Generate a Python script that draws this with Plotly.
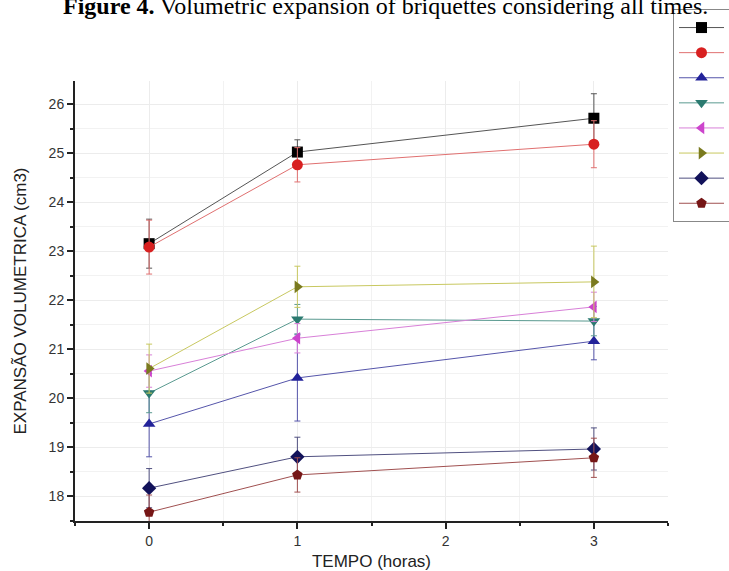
import plotly.graph_objects as go

tempo = [0, 1, 3]
series_names = ["A", "B", "C", "D", "E", "F", "G", "H"]
values = [
    [23.15, 25.02, 25.71],
    [23.08, 24.76, 25.18],
    [19.47, 20.41, 21.16],
    [20.10, 21.61, 21.57],
    [20.55, 21.22, 21.86],
    [20.60, 22.27, 22.37],
    [18.16, 18.80, 18.96],
    [17.67, 18.43, 18.78],
]
errors = [
    [0.50, 0.25, 0.50],
    [0.55, 0.35, 0.48],
    [0.67, 0.88, 0.38],
    [0.40, 0.30, 0.30],
    [0.33, 0.30, 0.30],
    [0.50, 0.42, 0.73],
    [0.40, 0.40, 0.43],
    [0.35, 0.35, 0.40],
]
colors = ["#000000", "#d82020", "#22229a", "#2b7a70", "#cc44cc",
          "#7a7a1e", "#12125a", "#761616"]
line_colors = ["#555555", "#e07070", "#5555aa", "#5a9a90", "#d880d8",
               "#c8c860", "#505080", "#a05050"]
symbols = ["square", "circle", "triangle-up", "triangle-down",
           "triangle-left", "triangle-right", "diamond", "pentagon"]

fig = go.Figure()
for name, v, e, c, lc, s in zip(series_names, values, errors, colors, line_colors, symbols):
    fig.add_trace(go.Scatter(
        x=tempo, y=v, name=name, mode="lines+markers",
        line=dict(color=lc, width=1),
        marker=dict(symbol=s, color=c, size=11, line=dict(width=0)),
        error_y=dict(type="data", array=e, color=lc, thickness=1, width=3),
    ))

axis_font = dict(family="Liberation Sans, Arial", size=14, color="#333333")
title_font = dict(family="Liberation Sans, Arial", size=17, color="#222222")
fig.update_layout(
    width=729, height=571,
    margin=dict(l=75, r=61, t=81, b=50, autoexpand=False),
    paper_bgcolor="white", plot_bgcolor="white",
    showlegend=True,
    legend=dict(
        x=(673 - 75) / 593, xanchor="left", y=1 + (81 - 9) / 440, yanchor="top",
        bgcolor="white", bordercolor="#888888", borderwidth=1,
        font=dict(family="Liberation Sans, Arial", size=17, color="#333333"),
        tracegroupgap=0, itemwidth=45,
    ),
    xaxis=dict(
        range=[-0.5, 3.5], tickvals=[0, 1, 2, 3], ticktext=["0", "1", "2", "3"],
        showline=True, linecolor="#222222", linewidth=2,
        ticks="outside", ticklen=6, tickwidth=2, tickcolor="#222222",
        showgrid=True, gridcolor="#ececec", gridwidth=1,
        minor=dict(dtick=0.5, ticks="outside", ticklen=3, tickcolor="#222222",
                   showgrid=True, gridcolor="#f2f2f2"),
        zeroline=False, tickfont=axis_font,
        title=dict(text="TEMPO (horas)", font=title_font, standoff=10),
    ),
    yaxis=dict(
        range=[17.49, 26.47], tickvals=[18, 19, 20, 21, 22, 23, 24, 25, 26],
        showline=True, linecolor="#222222", linewidth=2,
        ticks="outside", ticklen=6, tickwidth=2, tickcolor="#222222",
        showgrid=True, gridcolor="#ececec", gridwidth=1,
        minor=dict(dtick=0.5, ticks="outside", ticklen=3, tickcolor="#222222",
                   showgrid=True, gridcolor="#f2f2f2"),
        zeroline=False, tickfont=axis_font,
        title=dict(text="EXPANSÃO VOLUMETRICA (cm3)", font=title_font, standoff=18),
    ),
    annotations=[dict(
        text="<b>Figure 4.</b> Volumetric expansion of briquettes considering all times.",
        xref="paper", yref="paper", x=(385 - 75) / 593, y=1 + (81 - 13) / 440,
        xanchor="center", yanchor="bottom", yshift=-8, showarrow=False,
        font=dict(family="Liberation Serif, Times New Roman", size=24, color="black"),
    )],
)

fig.write_html("out.html")
